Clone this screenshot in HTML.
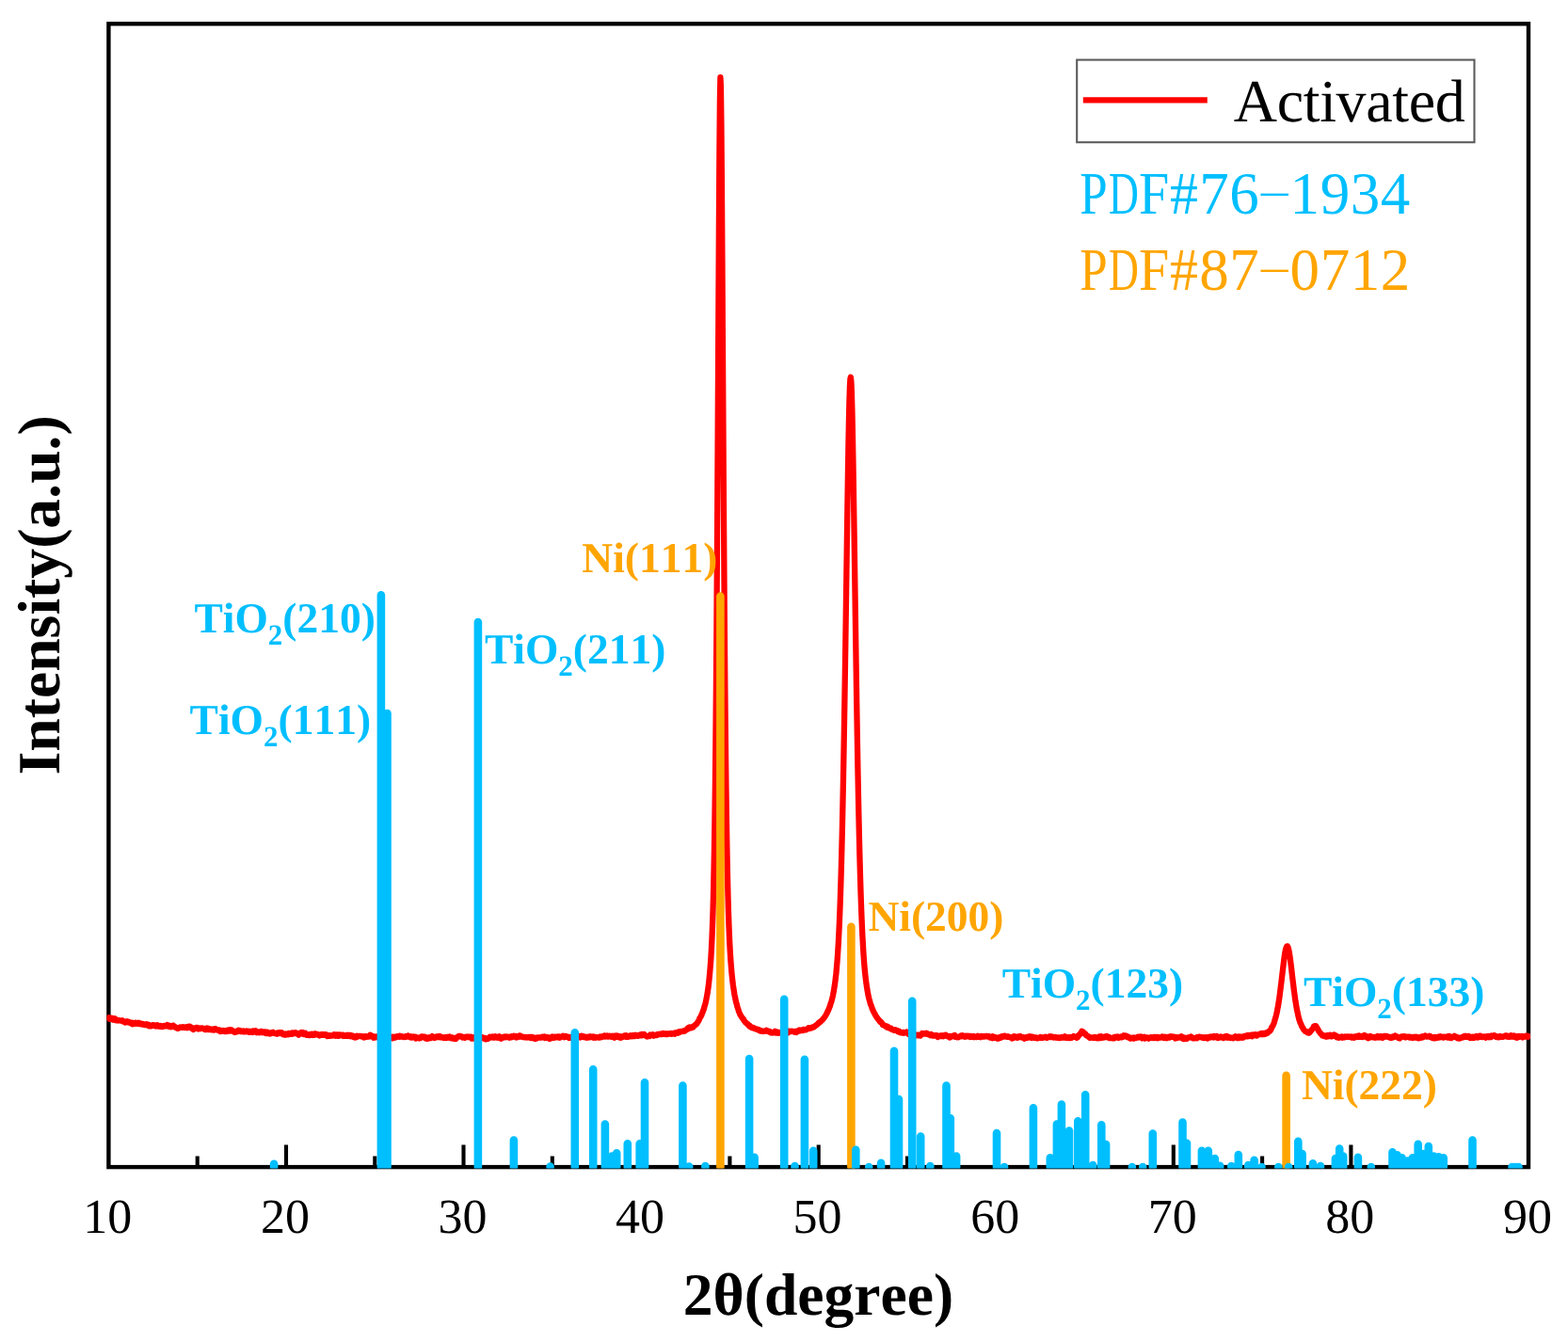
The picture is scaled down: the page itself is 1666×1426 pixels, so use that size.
<!DOCTYPE html>
<html lang="en"><head><meta charset="utf-8"><title>XRD pattern - Activated</title>
<style>html,body{margin:0;padding:0;background:#fff;}body{width:1666px;height:1426px;overflow:hidden;position:relative;}.pdf{position:absolute;white-space:nowrap;font-family:"Liberation Serif",serif;font-kerning:none;}.pdf span{display:inline-flex;justify-content:center;width:32.1px;transform-origin:50% 58.75%;}svg{display:block;}text{font-kerning:none;font-variant-ligatures:none;text-rendering:geometricPrecision;}.t{font-family:"Liberation Serif",serif;}.b{font-family:"Liberation Serif",serif;font-weight:bold;}</style></head><body>
<svg width="1666" height="1426" viewBox="0 0 1666 1426">
<rect width="1666" height="1426" fill="#fff"/>
<defs><clipPath id="cp"><rect x="113.4" y="23.3" width="1512.6" height="1218.3"/></clipPath></defs>
<rect x="115.4" y="25.3" width="1508.6" height="1214.8" fill="none" stroke="#000" stroke-width="4.4"/>
<path d="M209.7,1240.1 V1228.4 M304.0,1240.1 V1216.4 M398.3,1240.1 V1228.4 M492.5,1240.1 V1216.4 M586.8,1240.1 V1228.4 M681.1,1240.1 V1216.4 M775.4,1240.1 V1228.4 M869.7,1240.1 V1216.4 M964.0,1240.1 V1228.4 M1058.3,1240.1 V1216.4 M1152.6,1240.1 V1228.4 M1246.8,1240.1 V1216.4 M1341.1,1240.1 V1228.4 M1435.4,1240.1 V1216.4 M1529.7,1240.1 V1228.4" stroke="#000" stroke-width="4.1" fill="none"/>
<g clip-path="url(#cp)">
<path d="M115.4,1081.3 L115.9,1082.5 L116.4,1082.8 L116.9,1082.8 L117.4,1082.7 L117.9,1082.9 L118.4,1082.5 L118.9,1081.8 L119.4,1082.5 L119.9,1082.6 L120.4,1083.6 L120.9,1082.4 L121.4,1082.9 L121.9,1082.3 L122.4,1082.6 L122.9,1083.0 L123.4,1084.3 L123.9,1083.9 L124.4,1083.9 L124.9,1083.8 L125.4,1084.1 L125.9,1084.5 L126.4,1084.4 L126.9,1084.2 L127.4,1084.4 L127.9,1084.5 L128.4,1084.7 L128.9,1084.7 L129.4,1084.6 L129.9,1084.3 L130.4,1085.2 L130.9,1085.5 L131.4,1085.7 L131.9,1085.7 L132.4,1085.5 L132.9,1086.4 L133.4,1085.7 L133.9,1085.9 L134.4,1085.7 L134.9,1085.4 L135.4,1086.3 L135.9,1085.5 L136.4,1086.2 L136.9,1086.2 L137.4,1086.5 L137.9,1086.2 L138.4,1087.1 L138.9,1087.3 L139.4,1087.2 L139.9,1086.9 L140.4,1086.7 L140.9,1088.3 L141.4,1086.9 L141.9,1087.3 L142.4,1087.9 L142.9,1087.9 L143.4,1087.1 L143.9,1087.6 L144.4,1086.7 L144.9,1087.4 L145.4,1087.4 L145.9,1087.3 L146.4,1087.9 L146.9,1087.7 L147.4,1086.7 L147.9,1088.0 L148.4,1087.8 L148.9,1088.1 L149.4,1087.7 L149.9,1088.2 L150.4,1087.8 L150.9,1088.3 L151.4,1088.6 L151.9,1088.1 L152.4,1088.2 L152.9,1088.6 L153.4,1089.0 L153.9,1088.9 L154.4,1088.9 L154.9,1089.1 L155.4,1089.0 L155.9,1088.4 L156.4,1089.4 L156.9,1089.5 L157.4,1089.7 L157.9,1088.8 L158.4,1090.2 L158.9,1089.4 L159.4,1089.9 L159.9,1089.7 L160.4,1090.3 L160.9,1089.9 L161.4,1089.4 L161.9,1089.6 L162.4,1089.2 L162.9,1089.1 L163.4,1089.9 L163.9,1090.0 L164.4,1089.7 L164.9,1090.4 L165.4,1090.5 L165.9,1089.6 L166.4,1090.0 L166.9,1090.1 L167.4,1089.2 L167.9,1090.5 L168.4,1090.5 L168.9,1090.4 L169.4,1090.3 L169.9,1090.2 L170.4,1090.9 L170.9,1090.2 L171.4,1090.6 L171.9,1090.4 L172.4,1091.0 L172.9,1091.1 L173.4,1090.6 L173.9,1090.4 L174.4,1089.9 L174.9,1089.9 L175.4,1090.4 L175.9,1090.4 L176.4,1090.3 L176.9,1089.8 L177.4,1089.9 L177.9,1089.2 L178.4,1090.4 L178.9,1089.5 L179.4,1089.8 L179.9,1090.2 L180.4,1091.0 L180.9,1090.0 L181.4,1090.7 L181.9,1091.2 L182.4,1090.8 L182.9,1090.7 L183.4,1090.1 L183.9,1090.4 L184.4,1089.9 L184.9,1090.9 L185.4,1091.0 L185.9,1091.6 L186.4,1091.3 L186.9,1091.8 L187.4,1091.7 L187.9,1092.5 L188.4,1092.9 L188.9,1092.7 L189.4,1092.8 L189.9,1092.3 L190.4,1092.3 L190.9,1092.0 L191.4,1091.4 L191.9,1091.6 L192.4,1091.9 L192.9,1091.7 L193.4,1091.5 L193.9,1091.2 L194.4,1091.8 L194.9,1091.4 L195.4,1091.5 L195.9,1091.9 L196.4,1092.0 L196.9,1091.3 L197.4,1091.4 L197.9,1091.8 L198.4,1091.3 L198.9,1092.1 L199.4,1091.8 L199.9,1091.4 L200.4,1090.9 L200.9,1091.7 L201.4,1091.4 L201.9,1090.9 L202.4,1091.4 L202.9,1092.0 L203.4,1092.7 L203.9,1091.9 L204.4,1092.9 L204.9,1093.1 L205.4,1094.0 L205.9,1093.1 L206.4,1092.9 L206.9,1092.5 L207.4,1092.4 L207.9,1092.3 L208.4,1091.9 L208.9,1092.1 L209.4,1092.8 L209.9,1092.2 L210.4,1092.8 L210.9,1093.5 L211.4,1092.6 L211.9,1092.9 L212.4,1092.6 L212.9,1093.1 L213.4,1093.1 L213.9,1092.7 L214.4,1092.5 L214.9,1092.4 L215.4,1092.6 L215.9,1093.0 L216.4,1092.9 L216.9,1093.5 L217.4,1093.9 L217.9,1093.1 L218.4,1094.0 L218.9,1094.0 L219.4,1093.5 L219.9,1092.6 L220.4,1093.2 L220.9,1093.8 L221.4,1092.8 L221.9,1094.1 L222.4,1093.2 L222.9,1093.7 L223.4,1093.5 L223.9,1093.8 L224.4,1094.2 L224.9,1093.8 L225.4,1094.2 L225.9,1094.1 L226.4,1094.4 L226.9,1093.5 L227.4,1094.6 L227.9,1094.3 L228.4,1093.1 L228.9,1093.2 L229.4,1093.6 L229.9,1094.1 L230.4,1094.4 L230.9,1094.6 L231.4,1094.9 L231.9,1094.6 L232.4,1094.3 L232.9,1094.4 L233.4,1094.7 L233.9,1094.7 L234.4,1096.1 L234.9,1095.1 L235.4,1095.9 L235.9,1095.8 L236.4,1095.2 L236.9,1095.0 L237.4,1095.3 L237.9,1095.6 L238.4,1095.3 L238.9,1095.9 L239.4,1095.3 L239.9,1095.2 L240.4,1095.5 L240.9,1096.0 L241.4,1095.4 L241.9,1095.6 L242.4,1094.6 L242.9,1095.1 L243.4,1094.7 L243.9,1095.5 L244.4,1094.3 L244.9,1094.6 L245.4,1094.3 L245.9,1094.4 L246.4,1095.4 L246.9,1095.5 L247.4,1095.2 L247.9,1096.1 L248.4,1095.9 L248.9,1096.1 L249.4,1096.9 L249.9,1096.5 L250.4,1096.6 L250.9,1096.7 L251.4,1096.1 L251.9,1095.6 L252.4,1096.1 L252.9,1096.0 L253.4,1094.7 L253.9,1094.9 L254.4,1094.9 L254.9,1095.0 L255.4,1095.9 L255.9,1095.4 L256.4,1095.5 L256.9,1095.8 L257.4,1096.0 L257.9,1095.9 L258.4,1096.2 L258.9,1095.6 L259.4,1096.2 L259.9,1095.8 L260.4,1095.9 L260.9,1096.3 L261.4,1095.7 L261.9,1095.4 L262.4,1095.9 L262.9,1096.2 L263.4,1096.0 L263.9,1095.7 L264.4,1096.8 L264.9,1096.4 L265.4,1096.1 L265.9,1096.7 L266.4,1096.3 L266.9,1096.3 L267.4,1096.1 L267.9,1096.2 L268.4,1096.8 L268.9,1095.4 L269.4,1096.5 L269.9,1096.3 L270.4,1096.1 L270.9,1095.8 L271.4,1095.4 L271.9,1096.1 L272.4,1096.7 L272.9,1097.2 L273.4,1097.0 L273.9,1096.3 L274.4,1096.9 L274.9,1096.7 L275.4,1097.3 L275.9,1097.1 L276.4,1096.9 L276.9,1096.7 L277.4,1096.0 L277.9,1096.6 L278.4,1097.1 L278.9,1096.3 L279.4,1096.5 L279.9,1096.4 L280.4,1096.9 L280.9,1097.3 L281.4,1096.5 L281.9,1097.4 L282.4,1096.9 L282.9,1098.1 L283.4,1097.1 L283.9,1097.5 L284.4,1096.8 L284.9,1098.0 L285.4,1097.7 L285.9,1097.6 L286.4,1098.4 L286.9,1097.7 L287.4,1097.5 L287.9,1098.2 L288.4,1097.3 L288.9,1097.6 L289.4,1097.0 L289.9,1096.8 L290.4,1097.8 L290.9,1097.4 L291.4,1097.8 L291.9,1098.0 L292.4,1097.9 L292.9,1098.3 L293.4,1098.1 L293.9,1098.2 L294.4,1098.6 L294.9,1097.5 L295.4,1098.2 L295.9,1097.6 L296.4,1097.8 L296.9,1097.3 L297.4,1098.1 L297.9,1097.9 L298.4,1097.4 L298.9,1098.1 L299.4,1097.2 L299.9,1097.6 L300.4,1098.6 L300.9,1099.2 L301.4,1098.6 L301.9,1099.1 L302.4,1099.0 L302.9,1099.6 L303.4,1098.9 L303.9,1098.5 L304.4,1098.8 L304.9,1099.1 L305.4,1099.3 L305.9,1098.7 L306.4,1099.2 L306.9,1098.1 L307.4,1098.7 L307.9,1098.1 L308.4,1098.3 L308.9,1098.2 L309.4,1098.8 L309.9,1098.9 L310.4,1097.4 L310.9,1098.0 L311.4,1098.2 L311.9,1097.6 L312.4,1097.8 L312.9,1097.7 L313.4,1098.0 L313.9,1097.4 L314.4,1098.1 L314.9,1097.8 L315.4,1098.1 L315.9,1097.9 L316.4,1098.3 L316.9,1098.6 L317.4,1099.6 L317.9,1099.0 L318.4,1098.7 L318.9,1098.4 L319.4,1097.7 L319.9,1098.2 L320.4,1097.0 L320.9,1097.1 L321.4,1097.7 L321.9,1097.2 L322.4,1097.3 L322.9,1099.0 L323.4,1097.8 L323.9,1098.2 L324.4,1097.9 L324.9,1098.6 L325.4,1099.0 L325.9,1099.8 L326.4,1099.5 L326.9,1099.4 L327.4,1099.4 L327.9,1100.0 L328.4,1099.6 L328.9,1099.9 L329.4,1099.1 L329.9,1099.8 L330.4,1099.0 L330.9,1099.3 L331.4,1098.7 L331.9,1098.9 L332.4,1100.0 L332.9,1099.6 L333.4,1099.0 L333.9,1099.8 L334.4,1098.4 L334.9,1099.1 L335.4,1098.5 L335.9,1099.2 L336.4,1099.3 L336.9,1098.9 L337.4,1099.0 L337.9,1099.1 L338.4,1099.9 L338.9,1099.8 L339.4,1100.5 L339.9,1099.9 L340.4,1099.8 L340.9,1099.3 L341.4,1099.2 L341.9,1099.8 L342.4,1099.4 L342.9,1099.9 L343.4,1099.7 L343.9,1099.2 L344.4,1099.3 L344.9,1099.9 L345.4,1099.9 L345.9,1100.0 L346.4,1099.4 L346.9,1100.0 L347.4,1099.7 L347.9,1101.1 L348.4,1100.1 L348.9,1100.3 L349.4,1100.3 L349.9,1100.1 L350.4,1100.7 L350.9,1100.3 L351.4,1100.5 L351.9,1100.7 L352.4,1100.4 L352.9,1100.2 L353.4,1100.5 L353.9,1100.2 L354.4,1099.7 L354.9,1099.3 L355.4,1099.7 L355.9,1100.2 L356.4,1100.7 L356.9,1099.9 L357.4,1100.2 L357.9,1099.7 L358.4,1100.4 L358.9,1100.7 L359.4,1099.5 L359.9,1099.8 L360.4,1100.6 L360.9,1099.5 L361.4,1099.4 L361.9,1099.8 L362.4,1100.0 L362.9,1099.9 L363.4,1100.1 L363.9,1100.6 L364.4,1099.8 L364.9,1100.6 L365.4,1100.0 L365.9,1100.6 L366.4,1100.9 L366.9,1100.5 L367.4,1100.3 L367.9,1100.1 L368.4,1100.0 L368.9,1100.8 L369.4,1099.8 L369.9,1100.5 L370.4,1100.3 L370.9,1100.8 L371.4,1100.1 L371.9,1100.8 L372.4,1100.2 L372.9,1101.1 L373.4,1100.2 L373.9,1100.3 L374.4,1100.3 L374.9,1101.5 L375.4,1101.2 L375.9,1102.0 L376.4,1101.7 L376.9,1101.4 L377.4,1102.5 L377.9,1102.4 L378.4,1101.6 L378.9,1102.0 L379.4,1100.7 L379.9,1101.6 L380.4,1101.1 L380.9,1101.2 L381.4,1100.9 L381.9,1101.0 L382.4,1100.9 L382.9,1100.8 L383.4,1101.0 L383.9,1101.2 L384.4,1101.6 L384.9,1101.4 L385.4,1101.1 L385.9,1101.4 L386.4,1101.4 L386.9,1102.4 L387.4,1101.2 L387.9,1101.8 L388.4,1101.3 L388.9,1102.0 L389.4,1101.5 L389.9,1101.7 L390.4,1101.3 L390.9,1101.7 L391.4,1101.7 L391.9,1101.3 L392.4,1101.3 L392.9,1101.0 L393.4,1099.7 L393.9,1100.6 L394.4,1101.4 L394.9,1101.3 L395.4,1101.1 L395.9,1101.0 L396.4,1101.7 L396.9,1102.7 L397.4,1101.7 L397.9,1102.5 L398.4,1101.7 L398.9,1102.2 L399.4,1102.0 L399.9,1101.4 L400.4,1101.5 L400.9,1101.6 L401.4,1102.3 L401.9,1101.6 L402.4,1102.4 L402.9,1102.2 L403.4,1103.1 L403.9,1101.9 L404.4,1102.4 L404.9,1102.2 L405.4,1102.6 L405.9,1102.3 L406.4,1101.3 L406.9,1102.5 L407.4,1101.7 L407.9,1102.1 L408.4,1100.9 L408.9,1102.5 L409.4,1101.9 L409.9,1101.8 L410.4,1101.5 L410.9,1102.1 L411.4,1100.4 L411.9,1101.4 L412.4,1101.1 L412.9,1101.5 L413.4,1102.3 L413.9,1101.5 L414.4,1102.0 L414.9,1101.7 L415.4,1102.7 L415.9,1102.4 L416.4,1103.0 L416.9,1103.3 L417.4,1101.7 L417.9,1101.8 L418.4,1102.3 L418.9,1102.6 L419.4,1102.1 L419.9,1102.6 L420.4,1102.2 L420.9,1101.6 L421.4,1102.0 L421.9,1101.5 L422.4,1101.2 L422.9,1101.4 L423.4,1101.3 L423.9,1101.6 L424.4,1100.7 L424.9,1100.7 L425.4,1101.7 L425.9,1101.4 L426.4,1101.6 L426.9,1101.7 L427.4,1101.3 L427.9,1101.5 L428.4,1102.1 L428.9,1102.0 L429.4,1101.7 L429.9,1101.9 L430.4,1102.0 L430.9,1101.2 L431.4,1101.4 L431.9,1101.5 L432.4,1101.0 L432.9,1101.0 L433.4,1100.6 L433.9,1101.6 L434.4,1101.5 L434.9,1101.5 L435.4,1101.4 L435.9,1102.3 L436.4,1101.4 L436.9,1102.4 L437.4,1102.6 L437.9,1102.0 L438.4,1101.6 L438.9,1101.5 L439.4,1102.3 L439.9,1101.9 L440.4,1102.4 L440.9,1101.9 L441.4,1101.8 L441.9,1103.5 L442.4,1102.1 L442.9,1102.9 L443.4,1103.1 L443.9,1102.7 L444.4,1102.8 L444.9,1102.8 L445.4,1103.3 L445.9,1102.5 L446.4,1102.6 L446.9,1102.9 L447.4,1101.6 L447.9,1101.4 L448.4,1101.7 L448.9,1101.5 L449.4,1101.9 L449.9,1101.8 L450.4,1101.6 L450.9,1102.0 L451.4,1101.8 L451.9,1103.2 L452.4,1102.9 L452.9,1102.6 L453.4,1103.8 L453.9,1102.9 L454.4,1103.2 L454.9,1102.5 L455.4,1102.3 L455.9,1103.4 L456.4,1102.6 L456.9,1102.3 L457.4,1102.4 L457.9,1102.9 L458.4,1102.3 L458.9,1101.9 L459.4,1101.2 L459.9,1101.8 L460.4,1102.2 L460.9,1101.9 L461.4,1101.9 L461.9,1103.0 L462.4,1102.4 L462.9,1101.9 L463.4,1102.2 L463.9,1101.5 L464.4,1102.0 L464.9,1102.2 L465.4,1101.4 L465.9,1102.0 L466.4,1101.4 L466.9,1101.1 L467.4,1101.7 L467.9,1101.9 L468.4,1102.4 L468.9,1102.2 L469.4,1102.0 L469.9,1102.2 L470.4,1102.5 L470.9,1102.9 L471.4,1102.4 L471.9,1102.5 L472.4,1102.7 L472.9,1102.3 L473.4,1102.9 L473.9,1102.4 L474.4,1101.8 L474.9,1101.9 L475.4,1102.7 L475.9,1102.1 L476.4,1102.0 L476.9,1102.6 L477.4,1102.7 L477.9,1101.6 L478.4,1102.4 L478.9,1103.0 L479.4,1103.3 L479.9,1103.0 L480.4,1103.0 L480.9,1102.5 L481.4,1103.4 L481.9,1103.1 L482.4,1103.3 L482.9,1103.7 L483.4,1103.1 L483.9,1103.1 L484.4,1103.9 L484.9,1103.3 L485.4,1102.1 L485.9,1102.1 L486.4,1101.6 L486.9,1101.7 L487.4,1100.8 L487.9,1100.9 L488.4,1100.8 L488.9,1100.9 L489.4,1101.0 L489.9,1101.3 L490.4,1101.5 L490.9,1101.5 L491.4,1102.5 L491.9,1102.4 L492.4,1102.2 L492.9,1102.1 L493.4,1102.6 L493.9,1102.9 L494.4,1102.5 L494.9,1101.7 L495.4,1101.9 L495.9,1101.6 L496.4,1101.7 L496.9,1102.1 L497.4,1101.8 L497.9,1101.7 L498.4,1101.6 L498.9,1101.8 L499.4,1102.3 L499.9,1101.8 L500.4,1102.6 L500.9,1102.2 L501.4,1103.6 L501.9,1102.8 L502.4,1103.5 L502.9,1102.5 L503.4,1103.5 L503.9,1102.9 L504.4,1102.4 L504.9,1101.9 L505.4,1101.7 L505.9,1101.6 L506.4,1102.0 L506.9,1101.9 L507.4,1102.1 L507.9,1101.8 L508.4,1102.1 L508.9,1101.8 L509.4,1102.0 L509.9,1103.0 L510.4,1102.9 L510.9,1103.3 L511.4,1103.3 L511.9,1103.2 L512.4,1103.2 L512.9,1102.4 L513.4,1103.1 L513.9,1103.4 L514.4,1103.4 L514.9,1103.8 L515.4,1103.0 L515.9,1104.3 L516.4,1104.3 L516.9,1104.2 L517.4,1104.0 L517.9,1103.9 L518.4,1103.8 L518.9,1103.0 L519.4,1102.9 L519.9,1102.9 L520.4,1101.9 L520.9,1102.5 L521.4,1101.9 L521.9,1101.9 L522.4,1101.7 L522.9,1102.1 L523.4,1101.5 L523.9,1102.4 L524.4,1101.7 L524.9,1101.6 L525.4,1102.5 L525.9,1102.0 L526.4,1101.4 L526.9,1102.1 L527.4,1102.4 L527.9,1102.6 L528.4,1102.3 L528.9,1101.9 L529.4,1102.8 L529.9,1101.8 L530.4,1101.3 L530.9,1102.9 L531.4,1102.9 L531.9,1102.9 L532.4,1103.6 L532.9,1103.1 L533.4,1102.7 L533.9,1102.7 L534.4,1102.1 L534.9,1102.4 L535.4,1101.8 L535.9,1101.7 L536.4,1101.4 L536.9,1101.9 L537.4,1102.2 L537.9,1101.9 L538.4,1101.5 L538.9,1101.8 L539.4,1102.2 L539.9,1102.1 L540.4,1102.0 L540.9,1101.7 L541.4,1102.6 L541.9,1101.9 L542.4,1101.9 L542.9,1101.8 L543.4,1101.3 L543.9,1102.3 L544.4,1101.5 L544.9,1101.5 L545.4,1101.3 L545.9,1100.9 L546.4,1101.4 L546.9,1101.0 L547.4,1101.4 L547.9,1101.6 L548.4,1102.3 L548.9,1101.1 L549.4,1102.3 L549.9,1102.2 L550.4,1101.2 L550.9,1101.3 L551.4,1101.5 L551.9,1100.6 L552.4,1101.6 L552.9,1100.6 L553.4,1101.5 L553.9,1101.6 L554.4,1101.4 L554.9,1101.6 L555.4,1102.0 L555.9,1101.9 L556.4,1101.9 L556.9,1101.8 L557.4,1102.3 L557.9,1102.1 L558.4,1102.0 L558.9,1102.1 L559.4,1102.2 L559.9,1102.6 L560.4,1102.2 L560.9,1102.3 L561.4,1102.0 L561.9,1101.8 L562.4,1102.1 L562.9,1102.3 L563.4,1102.0 L563.9,1102.9 L564.4,1102.1 L564.9,1102.5 L565.4,1102.1 L565.9,1102.5 L566.4,1102.8 L566.9,1103.2 L567.4,1102.5 L567.9,1103.5 L568.4,1103.1 L568.9,1103.9 L569.4,1102.7 L569.9,1102.9 L570.4,1102.9 L570.9,1103.2 L571.4,1102.5 L571.9,1102.8 L572.4,1102.5 L572.9,1102.6 L573.4,1102.3 L573.9,1102.3 L574.4,1102.5 L574.9,1102.5 L575.4,1102.3 L575.9,1102.3 L576.4,1101.6 L576.9,1101.6 L577.4,1101.8 L577.9,1101.9 L578.4,1101.6 L578.9,1102.9 L579.4,1101.8 L579.9,1102.4 L580.4,1102.7 L580.9,1102.1 L581.4,1102.7 L581.9,1102.5 L582.4,1102.2 L582.9,1103.0 L583.4,1103.2 L583.9,1103.9 L584.4,1103.4 L584.9,1102.5 L585.4,1103.3 L585.9,1102.2 L586.4,1102.5 L586.9,1101.6 L587.4,1102.7 L587.9,1102.2 L588.4,1102.8 L588.9,1102.4 L589.4,1101.8 L589.9,1102.2 L590.4,1102.4 L590.9,1101.8 L591.4,1102.0 L591.9,1102.3 L592.4,1101.4 L592.9,1101.4 L593.4,1102.1 L593.9,1101.9 L594.4,1101.6 L594.9,1102.6 L595.4,1101.7 L595.9,1102.0 L596.4,1101.6 L596.9,1101.5 L597.4,1101.3 L597.9,1100.9 L598.4,1101.6 L598.9,1101.5 L599.4,1102.1 L599.9,1101.5 L600.4,1101.5 L600.9,1101.8 L601.4,1101.1 L601.9,1101.4 L602.4,1101.7 L602.9,1101.6 L603.4,1101.7 L603.9,1101.9 L604.4,1102.0 L604.9,1103.0 L605.4,1102.1 L605.9,1101.9 L606.4,1102.7 L606.9,1102.6 L607.4,1102.4 L607.9,1103.1 L608.4,1101.9 L608.9,1102.7 L609.4,1102.4 L609.9,1102.6 L610.4,1102.5 L610.9,1102.4 L611.4,1102.4 L611.9,1101.8 L612.4,1101.8 L612.9,1102.3 L613.4,1102.0 L613.9,1101.8 L614.4,1101.5 L614.9,1101.8 L615.4,1101.2 L615.9,1102.1 L616.4,1102.4 L616.9,1101.6 L617.4,1101.0 L617.9,1101.8 L618.4,1100.8 L618.9,1101.7 L619.4,1101.5 L619.9,1102.0 L620.4,1101.5 L620.9,1101.9 L621.4,1102.3 L621.9,1101.8 L622.4,1102.5 L622.9,1101.8 L623.4,1101.9 L623.9,1102.6 L624.4,1101.9 L624.9,1102.0 L625.4,1101.7 L625.9,1101.6 L626.4,1102.3 L626.9,1101.9 L627.4,1101.3 L627.9,1101.5 L628.4,1101.8 L628.9,1102.2 L629.4,1102.1 L629.9,1102.0 L630.4,1101.5 L630.9,1102.7 L631.4,1101.8 L631.9,1102.1 L632.4,1102.0 L632.9,1102.6 L633.4,1102.2 L633.9,1102.3 L634.4,1102.1 L634.9,1102.1 L635.4,1102.3 L635.9,1102.5 L636.4,1102.6 L636.9,1102.6 L637.4,1102.6 L637.9,1101.4 L638.4,1102.1 L638.9,1102.1 L639.4,1102.2 L639.9,1101.5 L640.4,1101.1 L640.9,1100.9 L641.4,1101.0 L641.9,1100.6 L642.4,1101.1 L642.9,1101.5 L643.4,1100.6 L643.9,1100.7 L644.4,1100.8 L644.9,1100.6 L645.4,1101.5 L645.9,1100.7 L646.4,1101.5 L646.9,1101.1 L647.4,1100.7 L647.9,1101.2 L648.4,1101.2 L648.9,1100.9 L649.4,1101.2 L649.9,1101.9 L650.4,1101.7 L650.9,1100.8 L651.4,1102.1 L651.9,1102.0 L652.4,1101.9 L652.9,1102.7 L653.4,1100.7 L653.9,1101.3 L654.4,1101.5 L654.9,1100.4 L655.4,1101.5 L655.9,1101.2 L656.4,1100.9 L656.9,1102.1 L657.4,1101.8 L657.9,1101.3 L658.4,1101.8 L658.9,1101.3 L659.4,1102.8 L659.9,1101.4 L660.4,1101.9 L660.9,1101.6 L661.4,1102.1 L661.9,1101.4 L662.4,1101.2 L662.9,1101.1 L663.4,1100.6 L663.9,1101.0 L664.4,1101.4 L664.9,1101.7 L665.4,1100.2 L665.9,1101.3 L666.4,1101.7 L666.9,1101.5 L667.4,1101.8 L667.9,1101.1 L668.4,1101.4 L668.9,1100.5 L669.4,1100.4 L669.9,1100.2 L670.4,1101.0 L670.9,1101.0 L671.4,1101.3 L671.9,1100.8 L672.4,1100.8 L672.9,1100.2 L673.4,1100.8 L673.9,1100.3 L674.4,1100.2 L674.9,1100.9 L675.4,1099.8 L675.9,1100.5 L676.4,1100.5 L676.9,1100.7 L677.4,1100.7 L677.9,1100.8 L678.4,1100.0 L678.9,1100.5 L679.4,1100.1 L679.9,1100.3 L680.4,1099.6 L680.9,1100.2 L681.4,1100.0 L681.9,1100.3 L682.4,1098.9 L682.9,1099.1 L683.4,1099.5 L683.9,1099.6 L684.4,1099.1 L684.9,1099.6 L685.4,1100.0 L685.9,1100.7 L686.4,1100.8 L686.9,1100.8 L687.4,1101.5 L687.9,1101.4 L688.4,1101.1 L688.9,1100.8 L689.4,1100.8 L689.9,1100.4 L690.4,1100.8 L690.9,1099.6 L691.4,1099.9 L691.9,1099.9 L692.4,1100.1 L692.9,1099.8 L693.4,1099.4 L693.9,1100.0 L694.4,1100.7 L694.9,1099.9 L695.4,1100.3 L695.9,1100.3 L696.4,1100.0 L696.9,1099.6 L697.4,1099.5 L697.9,1099.9 L698.4,1099.3 L698.9,1099.1 L699.4,1098.8 L699.9,1098.8 L700.4,1099.1 L700.9,1099.0 L701.4,1098.7 L701.9,1098.7 L702.4,1099.1 L702.9,1099.2 L703.4,1099.0 L703.9,1098.5 L704.4,1098.0 L704.9,1098.3 L705.4,1098.6 L705.9,1098.8 L706.4,1098.5 L706.9,1098.4 L707.4,1099.0 L707.9,1098.7 L708.4,1098.4 L708.9,1098.3 L709.4,1098.9 L709.9,1098.4 L710.4,1098.6 L710.9,1098.5 L711.4,1098.4 L711.9,1098.4 L712.4,1098.6 L712.9,1098.1 L713.4,1098.7 L713.9,1098.3 L714.4,1098.2 L714.9,1098.3 L715.4,1098.0 L715.9,1098.1 L716.4,1097.8 L716.9,1098.7 L717.4,1097.4 L717.9,1097.9 L718.4,1097.6 L718.9,1097.2 L719.4,1097.5 L719.9,1097.7 L720.4,1096.9 L720.9,1097.4 L721.4,1096.4 L721.9,1096.9 L722.4,1096.4 L722.9,1096.1 L723.4,1096.1 L723.9,1095.8 L724.4,1095.9 L724.9,1096.1 L725.4,1095.7 L725.9,1095.9 L726.4,1095.3 L726.9,1095.1 L727.4,1095.7 L727.9,1095.5 L728.4,1094.6 L728.9,1094.4 L729.4,1094.3 L729.9,1093.6 L730.4,1092.9 L730.9,1093.0 L731.4,1092.1 L731.9,1093.0 L732.4,1092.3 L732.9,1091.7 L733.4,1092.3 L733.9,1092.3 L734.4,1092.2 L734.9,1091.8 L735.4,1091.2 L735.9,1091.1 L736.4,1091.5 L736.9,1090.6 L737.4,1090.1 L737.9,1089.8 L738.4,1089.1 L738.9,1089.0 L739.4,1088.7 L739.9,1088.0 L740.4,1087.9 L740.9,1086.5 L741.4,1086.2 L741.9,1085.2 L742.4,1084.6 L742.9,1083.4 L743.4,1082.0 L743.9,1081.2 L744.4,1080.6 L744.9,1079.3 L745.4,1078.6 L745.9,1076.8 L746.4,1076.0 L746.9,1074.5 L747.4,1073.3 L747.9,1071.9 L748.4,1069.8 L748.9,1068.3 L749.4,1066.6 L749.9,1064.5 L750.4,1062.0 L750.9,1059.5 L751.4,1056.7 L751.9,1053.5 L752.4,1050.2 L752.9,1046.4 L753.4,1041.9 L753.9,1036.8 L754.4,1031.2 L754.9,1025.0 L755.4,1017.7 L755.9,1008.9 L756.4,998.7 L756.9,986.4 L757.4,972.0 L757.9,954.0 L758.4,932.1 L758.9,905.4 L759.4,872.8 L759.9,833.5 L760.4,786.2 L760.9,730.5 L761.4,665.6 L761.9,591.5 L762.4,509.0 L762.9,419.9 L763.4,327.9 L763.9,239.2 L764.4,162.1 L764.9,106.7 L765.4,82.1 L765.9,91.7 L766.4,131.3 L766.9,194.8 L767.4,273.7 L767.9,359.8 L768.4,446.6 L768.9,529.6 L769.4,606.1 L769.9,674.9 L770.4,735.4 L770.9,787.7 L771.4,832.4 L771.9,870.0 L772.4,901.3 L772.9,927.5 L773.4,949.1 L773.9,966.9 L774.4,981.8 L774.9,994.3 L775.4,1004.7 L775.9,1013.6 L776.4,1021.1 L776.9,1027.6 L777.4,1033.4 L777.9,1038.3 L778.4,1042.9 L778.9,1047.2 L779.4,1050.3 L779.9,1053.5 L780.4,1056.8 L780.9,1059.2 L781.4,1061.7 L781.9,1064.2 L782.4,1066.0 L782.9,1067.5 L783.4,1069.9 L783.9,1071.3 L784.4,1072.7 L784.9,1074.4 L785.4,1075.7 L785.9,1076.8 L786.4,1078.2 L786.9,1078.7 L787.4,1079.9 L787.9,1080.4 L788.4,1081.3 L788.9,1081.9 L789.4,1082.2 L789.9,1083.0 L790.4,1084.2 L790.9,1084.7 L791.4,1085.5 L791.9,1086.2 L792.4,1086.7 L792.9,1086.8 L793.4,1087.6 L793.9,1088.1 L794.4,1088.6 L794.9,1088.4 L795.4,1089.8 L795.9,1089.7 L796.4,1090.5 L796.9,1090.1 L797.4,1091.2 L797.9,1091.2 L798.4,1091.9 L798.9,1091.6 L799.4,1092.2 L799.9,1092.4 L800.4,1091.9 L800.9,1092.2 L801.4,1092.5 L801.9,1093.0 L802.4,1093.4 L802.9,1093.2 L803.4,1093.5 L803.9,1093.8 L804.4,1094.1 L804.9,1093.8 L805.4,1094.3 L805.9,1094.6 L806.4,1094.9 L806.9,1094.5 L807.4,1095.3 L807.9,1095.5 L808.4,1095.3 L808.9,1095.3 L809.4,1095.6 L809.9,1095.4 L810.4,1095.7 L810.9,1096.1 L811.4,1095.7 L811.9,1095.7 L812.4,1095.6 L812.9,1095.5 L813.4,1095.7 L813.9,1095.6 L814.4,1094.9 L814.9,1095.4 L815.4,1095.5 L815.9,1096.0 L816.4,1096.2 L816.9,1096.0 L817.4,1096.2 L817.9,1096.0 L818.4,1097.1 L818.9,1097.3 L819.4,1097.4 L819.9,1097.2 L820.4,1097.6 L820.9,1097.5 L821.4,1097.2 L821.9,1097.3 L822.4,1096.6 L822.9,1096.7 L823.4,1095.9 L823.9,1096.8 L824.4,1097.4 L824.9,1096.3 L825.4,1097.2 L825.9,1097.2 L826.4,1097.1 L826.9,1097.7 L827.4,1097.0 L827.9,1097.6 L828.4,1097.4 L828.9,1097.5 L829.4,1097.0 L829.9,1097.4 L830.4,1097.4 L830.9,1097.0 L831.4,1096.2 L831.9,1096.9 L832.4,1096.5 L832.9,1096.4 L833.4,1096.5 L833.9,1096.0 L834.4,1096.5 L834.9,1096.4 L835.4,1096.3 L835.9,1096.5 L836.4,1096.9 L836.9,1097.4 L837.4,1096.5 L837.9,1095.8 L838.4,1096.6 L838.9,1096.0 L839.4,1096.0 L839.9,1095.8 L840.4,1096.0 L840.9,1095.8 L841.4,1095.6 L841.9,1095.8 L842.4,1095.8 L842.9,1096.1 L843.4,1096.3 L843.9,1096.6 L844.4,1096.0 L844.9,1096.8 L845.4,1096.0 L845.9,1096.4 L846.4,1096.8 L846.9,1095.8 L847.4,1096.1 L847.9,1095.5 L848.4,1095.1 L848.9,1095.5 L849.4,1094.6 L849.9,1095.2 L850.4,1094.8 L850.9,1095.1 L851.4,1095.0 L851.9,1094.8 L852.4,1094.6 L852.9,1094.9 L853.4,1094.1 L853.9,1094.6 L854.4,1094.6 L854.9,1093.9 L855.4,1094.1 L855.9,1094.1 L856.4,1094.3 L856.9,1093.8 L857.4,1093.6 L857.9,1093.3 L858.4,1092.9 L858.9,1092.4 L859.4,1093.1 L859.9,1092.9 L860.4,1092.6 L860.9,1092.2 L861.4,1092.6 L861.9,1092.6 L862.4,1092.2 L862.9,1092.1 L863.4,1091.4 L863.9,1091.6 L864.4,1091.6 L864.9,1091.2 L865.4,1090.9 L865.9,1090.5 L866.4,1089.9 L866.9,1089.4 L867.4,1089.1 L867.9,1088.9 L868.4,1088.4 L868.9,1088.2 L869.4,1087.2 L869.9,1087.2 L870.4,1086.3 L870.9,1086.2 L871.4,1085.8 L871.9,1085.6 L872.4,1084.9 L872.9,1084.5 L873.4,1084.1 L873.9,1083.3 L874.4,1083.1 L874.9,1082.2 L875.4,1081.7 L875.9,1081.2 L876.4,1080.4 L876.9,1079.5 L877.4,1078.9 L877.9,1077.9 L878.4,1076.8 L878.9,1076.1 L879.4,1074.6 L879.9,1073.9 L880.4,1072.8 L880.9,1071.4 L881.4,1070.1 L881.9,1069.0 L882.4,1067.1 L882.9,1065.6 L883.4,1064.4 L883.9,1062.2 L884.4,1060.3 L884.9,1058.1 L885.4,1055.4 L885.9,1053.0 L886.4,1049.7 L886.9,1046.6 L887.4,1042.9 L887.9,1038.6 L888.4,1034.4 L888.9,1028.9 L889.4,1023.1 L889.9,1016.6 L890.4,1008.8 L890.9,1000.4 L891.4,990.6 L891.9,979.5 L892.4,967.1 L892.9,953.2 L893.4,937.6 L893.9,920.3 L894.4,901.1 L894.9,880.1 L895.4,856.9 L895.9,831.9 L896.4,804.7 L896.9,775.7 L897.4,745.0 L897.9,712.4 L898.4,678.7 L898.9,643.9 L899.4,608.5 L899.9,573.3 L900.4,538.8 L900.9,506.1 L901.4,475.9 L901.9,449.5 L902.4,427.9 L902.9,412.1 L903.4,402.8 L903.9,400.7 L904.4,405.7 L904.9,417.7 L905.4,435.9 L905.9,459.6 L906.4,487.6 L906.9,518.9 L907.4,552.5 L907.9,587.4 L908.4,622.7 L908.9,657.9 L909.4,692.4 L909.9,725.7 L910.4,757.5 L910.9,787.6 L911.4,816.0 L911.9,842.2 L912.4,866.5 L912.9,889.0 L913.4,909.2 L913.9,927.7 L914.4,944.3 L914.9,959.3 L915.4,972.6 L915.9,984.5 L916.4,994.8 L916.9,1004.0 L917.4,1012.5 L917.9,1019.7 L918.4,1025.9 L918.9,1031.6 L919.4,1036.5 L919.9,1040.7 L920.4,1044.7 L920.9,1048.1 L921.4,1051.4 L921.9,1054.2 L922.4,1056.8 L922.9,1059.3 L923.4,1061.3 L923.9,1063.1 L924.4,1064.9 L924.9,1067.0 L925.4,1067.8 L925.9,1069.3 L926.4,1070.6 L926.9,1072.5 L927.4,1072.9 L927.9,1074.4 L928.4,1075.7 L928.9,1076.4 L929.4,1077.0 L929.9,1078.3 L930.4,1079.1 L930.9,1080.1 L931.4,1080.6 L931.9,1081.4 L932.4,1082.4 L932.9,1082.8 L933.4,1083.3 L933.9,1084.1 L934.4,1084.7 L934.9,1085.4 L935.4,1085.9 L935.9,1085.7 L936.4,1086.7 L936.9,1086.8 L937.4,1087.8 L937.9,1089.0 L938.4,1088.8 L938.9,1089.3 L939.4,1089.3 L939.9,1089.7 L940.4,1090.2 L940.9,1090.5 L941.4,1090.6 L941.9,1091.3 L942.4,1090.5 L942.9,1091.5 L943.4,1091.0 L943.9,1092.2 L944.4,1092.2 L944.9,1092.2 L945.4,1092.7 L945.9,1092.8 L946.4,1093.3 L946.9,1092.9 L947.4,1093.9 L947.9,1094.0 L948.4,1093.8 L948.9,1094.1 L949.4,1094.6 L949.9,1094.8 L950.4,1094.6 L950.9,1094.8 L951.4,1094.3 L951.9,1094.7 L952.4,1095.2 L952.9,1095.2 L953.4,1095.1 L953.9,1095.7 L954.4,1096.4 L954.9,1096.6 L955.4,1095.9 L955.9,1096.8 L956.4,1096.7 L956.9,1097.4 L957.4,1097.2 L957.9,1097.4 L958.4,1097.5 L958.9,1097.3 L959.4,1097.0 L959.9,1097.0 L960.4,1097.7 L960.9,1097.1 L961.4,1097.1 L961.9,1097.3 L962.4,1097.0 L962.9,1097.2 L963.4,1096.6 L963.9,1097.7 L964.4,1097.6 L964.9,1098.1 L965.4,1099.0 L965.9,1098.8 L966.4,1098.8 L966.9,1099.2 L967.4,1099.3 L967.9,1099.6 L968.4,1099.4 L968.9,1099.8 L969.4,1100.2 L969.9,1099.5 L970.4,1100.2 L970.9,1099.9 L971.4,1100.3 L971.9,1100.0 L972.4,1100.6 L972.9,1100.1 L973.4,1099.7 L973.9,1099.7 L974.4,1099.8 L974.9,1100.1 L975.4,1099.9 L975.9,1100.2 L976.4,1099.6 L976.9,1099.7 L977.4,1099.9 L977.9,1100.5 L978.4,1099.4 L978.9,1099.6 L979.4,1099.4 L979.9,1098.1 L980.4,1098.3 L980.9,1098.4 L981.4,1098.2 L981.9,1098.5 L982.4,1098.6 L982.9,1098.1 L983.4,1098.3 L983.9,1098.5 L984.4,1097.7 L984.9,1098.3 L985.4,1099.1 L985.9,1099.0 L986.4,1098.7 L986.9,1099.2 L987.4,1099.5 L987.9,1099.4 L988.4,1100.2 L988.9,1099.8 L989.4,1099.0 L989.9,1100.2 L990.4,1100.4 L990.9,1100.6 L991.4,1100.3 L991.9,1100.1 L992.4,1100.6 L992.9,1100.3 L993.4,1100.1 L993.9,1100.5 L994.4,1100.2 L994.9,1100.8 L995.4,1100.3 L995.9,1101.1 L996.4,1102.0 L996.9,1101.0 L997.4,1101.1 L997.9,1101.1 L998.4,1101.2 L998.9,1100.4 L999.4,1100.5 L999.9,1100.6 L1000.4,1100.6 L1000.9,1100.3 L1001.4,1101.2 L1001.9,1101.2 L1002.4,1101.3 L1002.9,1100.7 L1003.4,1100.1 L1003.9,1099.9 L1004.4,1100.1 L1004.9,1099.8 L1005.4,1100.3 L1005.9,1101.0 L1006.4,1100.9 L1006.9,1100.9 L1007.4,1100.8 L1007.9,1101.6 L1008.4,1101.2 L1008.9,1101.5 L1009.4,1102.5 L1009.9,1101.1 L1010.4,1101.8 L1010.9,1101.6 L1011.4,1101.0 L1011.9,1101.1 L1012.4,1100.7 L1012.9,1100.5 L1013.4,1101.2 L1013.9,1100.6 L1014.4,1100.1 L1014.9,1101.7 L1015.4,1101.5 L1015.9,1101.3 L1016.4,1101.7 L1016.9,1102.2 L1017.4,1101.8 L1017.9,1102.0 L1018.4,1102.2 L1018.9,1101.5 L1019.4,1101.4 L1019.9,1101.2 L1020.4,1101.0 L1020.9,1100.5 L1021.4,1101.3 L1021.9,1100.6 L1022.4,1101.0 L1022.9,1100.4 L1023.4,1101.0 L1023.9,1101.2 L1024.4,1100.8 L1024.9,1100.8 L1025.4,1101.8 L1025.9,1101.5 L1026.4,1100.9 L1026.9,1101.4 L1027.4,1101.0 L1027.9,1101.3 L1028.4,1100.7 L1028.9,1101.1 L1029.4,1101.2 L1029.9,1101.0 L1030.4,1100.9 L1030.9,1101.9 L1031.4,1101.1 L1031.9,1101.7 L1032.4,1101.2 L1032.9,1101.1 L1033.4,1101.6 L1033.9,1101.0 L1034.4,1101.6 L1034.9,1102.1 L1035.4,1101.4 L1035.9,1101.7 L1036.4,1101.9 L1036.9,1101.9 L1037.4,1102.1 L1037.9,1102.0 L1038.4,1101.6 L1038.9,1100.8 L1039.4,1101.8 L1039.9,1101.8 L1040.4,1101.7 L1040.9,1101.9 L1041.4,1101.4 L1041.9,1102.1 L1042.4,1101.8 L1042.9,1101.1 L1043.4,1101.5 L1043.9,1101.6 L1044.4,1101.2 L1044.9,1101.1 L1045.4,1101.5 L1045.9,1101.2 L1046.4,1101.2 L1046.9,1101.3 L1047.4,1101.2 L1047.9,1101.0 L1048.4,1101.0 L1048.9,1101.4 L1049.4,1101.4 L1049.9,1101.3 L1050.4,1101.0 L1050.9,1101.7 L1051.4,1102.2 L1051.9,1102.5 L1052.4,1101.8 L1052.9,1102.7 L1053.4,1102.7 L1053.9,1102.7 L1054.4,1103.1 L1054.9,1101.2 L1055.4,1102.0 L1055.9,1101.8 L1056.4,1102.7 L1056.9,1102.0 L1057.4,1102.6 L1057.9,1102.2 L1058.4,1102.6 L1058.9,1102.7 L1059.4,1103.4 L1059.9,1103.0 L1060.4,1103.3 L1060.9,1103.5 L1061.4,1102.9 L1061.9,1102.2 L1062.4,1102.0 L1062.9,1102.0 L1063.4,1102.7 L1063.9,1101.5 L1064.4,1101.8 L1064.9,1101.9 L1065.4,1101.2 L1065.9,1101.5 L1066.4,1101.1 L1066.9,1101.5 L1067.4,1101.5 L1067.9,1100.8 L1068.4,1101.3 L1068.9,1101.2 L1069.4,1101.7 L1069.9,1101.9 L1070.4,1101.6 L1070.9,1101.3 L1071.4,1101.4 L1071.9,1102.2 L1072.4,1102.2 L1072.9,1102.2 L1073.4,1102.1 L1073.9,1102.1 L1074.4,1102.7 L1074.9,1102.8 L1075.4,1103.4 L1075.9,1102.8 L1076.4,1102.3 L1076.9,1103.0 L1077.4,1101.1 L1077.9,1101.6 L1078.4,1102.1 L1078.9,1101.7 L1079.4,1101.7 L1079.9,1102.1 L1080.4,1102.6 L1080.9,1101.9 L1081.4,1102.7 L1081.9,1101.6 L1082.4,1101.4 L1082.9,1101.3 L1083.4,1101.4 L1083.9,1101.0 L1084.4,1101.8 L1084.9,1102.2 L1085.4,1102.0 L1085.9,1101.9 L1086.4,1102.3 L1086.9,1102.7 L1087.4,1102.3 L1087.9,1102.8 L1088.4,1103.6 L1088.9,1102.7 L1089.4,1102.5 L1089.9,1102.2 L1090.4,1102.9 L1090.9,1102.0 L1091.4,1102.1 L1091.9,1102.7 L1092.4,1101.7 L1092.9,1101.9 L1093.4,1101.9 L1093.9,1101.4 L1094.4,1101.3 L1094.9,1102.5 L1095.4,1102.3 L1095.9,1101.8 L1096.4,1102.9 L1096.9,1101.9 L1097.4,1102.2 L1097.9,1102.0 L1098.4,1102.6 L1098.9,1102.8 L1099.4,1102.6 L1099.9,1102.7 L1100.4,1102.5 L1100.9,1102.5 L1101.4,1102.7 L1101.9,1103.3 L1102.4,1102.9 L1102.9,1102.8 L1103.4,1103.1 L1103.9,1102.8 L1104.4,1102.5 L1104.9,1102.6 L1105.4,1102.0 L1105.9,1102.0 L1106.4,1102.9 L1106.9,1102.9 L1107.4,1102.6 L1107.9,1102.8 L1108.4,1102.3 L1108.9,1102.3 L1109.4,1102.3 L1109.9,1101.8 L1110.4,1101.8 L1110.9,1102.3 L1111.4,1101.8 L1111.9,1102.0 L1112.4,1102.8 L1112.9,1102.2 L1113.4,1101.9 L1113.9,1102.2 L1114.4,1102.0 L1114.9,1101.7 L1115.4,1101.3 L1115.9,1102.1 L1116.4,1101.9 L1116.9,1101.7 L1117.4,1101.5 L1117.9,1102.1 L1118.4,1101.9 L1118.9,1101.9 L1119.4,1102.4 L1119.9,1102.0 L1120.4,1102.4 L1120.9,1102.5 L1121.4,1102.0 L1121.9,1102.1 L1122.4,1102.3 L1122.9,1102.3 L1123.4,1102.8 L1123.9,1102.5 L1124.4,1102.5 L1124.9,1102.4 L1125.4,1102.9 L1125.9,1103.0 L1126.4,1103.1 L1126.9,1102.7 L1127.4,1102.5 L1127.9,1102.0 L1128.4,1102.4 L1128.9,1102.5 L1129.4,1102.2 L1129.9,1102.0 L1130.4,1102.5 L1130.9,1101.8 L1131.4,1101.3 L1131.9,1101.6 L1132.4,1102.0 L1132.9,1101.9 L1133.4,1103.0 L1133.9,1102.3 L1134.4,1102.8 L1134.9,1102.4 L1135.4,1102.4 L1135.9,1103.1 L1136.4,1103.0 L1136.9,1101.9 L1137.4,1102.7 L1137.9,1102.6 L1138.4,1102.8 L1138.9,1102.0 L1139.4,1101.6 L1139.9,1101.6 L1140.4,1101.9 L1140.9,1101.2 L1141.4,1101.9 L1141.9,1101.8 L1142.4,1101.8 L1142.9,1101.8 L1143.4,1102.3 L1143.9,1102.7 L1144.4,1102.4 L1144.9,1102.3 L1145.4,1100.8 L1145.9,1101.0 L1146.4,1099.9 L1146.9,1099.8 L1147.4,1098.8 L1147.9,1098.7 L1148.4,1097.3 L1148.9,1097.1 L1149.4,1095.8 L1149.9,1097.2 L1150.4,1096.3 L1150.9,1096.5 L1151.4,1097.2 L1151.9,1098.1 L1152.4,1097.9 L1152.9,1099.0 L1153.4,1098.7 L1153.9,1100.0 L1154.4,1100.1 L1154.9,1100.7 L1155.4,1100.9 L1155.9,1100.9 L1156.4,1101.2 L1156.9,1102.0 L1157.4,1102.3 L1157.9,1102.8 L1158.4,1102.8 L1158.9,1102.6 L1159.4,1102.7 L1159.9,1102.5 L1160.4,1102.5 L1160.9,1102.7 L1161.4,1102.8 L1161.9,1102.6 L1162.4,1102.3 L1162.9,1102.7 L1163.4,1102.0 L1163.9,1102.9 L1164.4,1102.9 L1164.9,1102.5 L1165.4,1102.8 L1165.9,1103.3 L1166.4,1103.3 L1166.9,1102.8 L1167.4,1102.8 L1167.9,1101.5 L1168.4,1102.8 L1168.9,1103.0 L1169.4,1102.0 L1169.9,1101.4 L1170.4,1102.3 L1170.9,1102.6 L1171.4,1101.9 L1171.9,1102.5 L1172.4,1102.1 L1172.9,1101.8 L1173.4,1102.0 L1173.9,1102.2 L1174.4,1101.8 L1174.9,1101.3 L1175.4,1101.2 L1175.9,1101.1 L1176.4,1101.2 L1176.9,1102.4 L1177.4,1102.4 L1177.9,1101.8 L1178.4,1102.9 L1178.9,1102.2 L1179.4,1103.0 L1179.9,1103.1 L1180.4,1102.9 L1180.9,1103.1 L1181.4,1102.9 L1181.9,1103.0 L1182.4,1103.3 L1182.9,1102.5 L1183.4,1103.0 L1183.9,1102.2 L1184.4,1103.1 L1184.9,1101.9 L1185.4,1101.7 L1185.9,1102.1 L1186.4,1102.0 L1186.9,1102.0 L1187.4,1102.3 L1187.9,1101.7 L1188.4,1102.9 L1188.9,1102.1 L1189.4,1102.2 L1189.9,1101.9 L1190.4,1101.9 L1190.9,1102.2 L1191.4,1101.5 L1191.9,1101.5 L1192.4,1102.2 L1192.9,1101.5 L1193.4,1101.2 L1193.9,1100.4 L1194.4,1101.3 L1194.9,1101.4 L1195.4,1101.0 L1195.9,1100.5 L1196.4,1101.1 L1196.9,1100.9 L1197.4,1101.9 L1197.9,1101.7 L1198.4,1101.8 L1198.9,1101.6 L1199.4,1102.0 L1199.9,1102.9 L1200.4,1103.2 L1200.9,1103.6 L1201.4,1103.3 L1201.9,1103.2 L1202.4,1103.4 L1202.9,1102.8 L1203.4,1103.0 L1203.9,1102.9 L1204.4,1103.5 L1204.9,1102.6 L1205.4,1102.9 L1205.9,1103.1 L1206.4,1103.2 L1206.9,1102.9 L1207.4,1102.9 L1207.9,1102.5 L1208.4,1101.9 L1208.9,1102.1 L1209.4,1102.4 L1209.9,1101.7 L1210.4,1101.7 L1210.9,1101.9 L1211.4,1102.0 L1211.9,1102.1 L1212.4,1101.6 L1212.9,1102.8 L1213.4,1103.3 L1213.9,1102.4 L1214.4,1102.5 L1214.9,1102.9 L1215.4,1102.6 L1215.9,1101.8 L1216.4,1103.4 L1216.9,1102.2 L1217.4,1103.2 L1217.9,1102.6 L1218.4,1102.6 L1218.9,1102.4 L1219.4,1102.9 L1219.9,1103.1 L1220.4,1103.6 L1220.9,1103.0 L1221.4,1102.8 L1221.9,1102.7 L1222.4,1102.3 L1222.9,1102.8 L1223.4,1102.9 L1223.9,1102.4 L1224.4,1102.5 L1224.9,1102.4 L1225.4,1102.1 L1225.9,1103.0 L1226.4,1102.1 L1226.9,1102.8 L1227.4,1102.8 L1227.9,1102.1 L1228.4,1102.8 L1228.9,1102.0 L1229.4,1103.0 L1229.9,1102.0 L1230.4,1103.2 L1230.9,1102.9 L1231.4,1102.1 L1231.9,1102.3 L1232.4,1102.5 L1232.9,1102.5 L1233.4,1102.3 L1233.9,1102.2 L1234.4,1102.2 L1234.9,1101.5 L1235.4,1101.7 L1235.9,1101.7 L1236.4,1102.9 L1236.9,1101.9 L1237.4,1101.7 L1237.9,1102.4 L1238.4,1103.0 L1238.9,1103.0 L1239.4,1102.6 L1239.9,1103.1 L1240.4,1102.1 L1240.9,1102.7 L1241.4,1102.7 L1241.9,1101.9 L1242.4,1102.5 L1242.9,1101.7 L1243.4,1101.7 L1243.9,1101.2 L1244.4,1101.6 L1244.9,1101.7 L1245.4,1101.8 L1245.9,1101.4 L1246.4,1101.7 L1246.9,1101.8 L1247.4,1102.1 L1247.9,1101.9 L1248.4,1102.0 L1248.9,1103.4 L1249.4,1103.0 L1249.9,1102.1 L1250.4,1103.0 L1250.9,1102.2 L1251.4,1102.5 L1251.9,1102.5 L1252.4,1102.3 L1252.9,1102.2 L1253.4,1102.0 L1253.9,1102.3 L1254.4,1102.6 L1254.9,1102.8 L1255.4,1101.2 L1255.9,1103.2 L1256.4,1102.6 L1256.9,1102.3 L1257.4,1103.0 L1257.9,1104.1 L1258.4,1103.8 L1258.9,1103.7 L1259.4,1102.9 L1259.9,1103.9 L1260.4,1103.9 L1260.9,1103.8 L1261.4,1103.5 L1261.9,1102.7 L1262.4,1102.4 L1262.9,1102.3 L1263.4,1102.5 L1263.9,1102.4 L1264.4,1102.2 L1264.9,1102.1 L1265.4,1101.6 L1265.9,1102.2 L1266.4,1102.2 L1266.9,1102.9 L1267.4,1103.3 L1267.9,1103.1 L1268.4,1103.3 L1268.9,1103.3 L1269.4,1103.2 L1269.9,1102.8 L1270.4,1102.8 L1270.9,1103.0 L1271.4,1102.4 L1271.9,1103.1 L1272.4,1102.5 L1272.9,1102.4 L1273.4,1102.0 L1273.9,1101.6 L1274.4,1101.6 L1274.9,1102.0 L1275.4,1102.1 L1275.9,1102.0 L1276.4,1102.2 L1276.9,1102.6 L1277.4,1102.3 L1277.9,1102.7 L1278.4,1102.3 L1278.9,1102.4 L1279.4,1103.0 L1279.9,1102.8 L1280.4,1102.3 L1280.9,1102.5 L1281.4,1102.9 L1281.9,1102.4 L1282.4,1102.9 L1282.9,1103.4 L1283.4,1102.7 L1283.9,1102.9 L1284.4,1102.2 L1284.9,1102.6 L1285.4,1101.9 L1285.9,1101.7 L1286.4,1102.2 L1286.9,1101.5 L1287.4,1101.6 L1287.9,1101.6 L1288.4,1101.8 L1288.9,1101.6 L1289.4,1102.4 L1289.9,1101.1 L1290.4,1101.8 L1290.9,1101.2 L1291.4,1101.6 L1291.9,1102.2 L1292.4,1101.7 L1292.9,1101.2 L1293.4,1102.5 L1293.9,1103.0 L1294.4,1102.5 L1294.9,1102.3 L1295.4,1102.3 L1295.9,1102.5 L1296.4,1102.1 L1296.9,1101.6 L1297.4,1102.1 L1297.9,1102.3 L1298.4,1102.3 L1298.9,1102.5 L1299.4,1102.6 L1299.9,1103.0 L1300.4,1101.7 L1300.9,1102.4 L1301.4,1102.0 L1301.9,1101.9 L1302.4,1101.3 L1302.9,1102.2 L1303.4,1101.0 L1303.9,1101.7 L1304.4,1102.7 L1304.9,1101.8 L1305.4,1102.4 L1305.9,1101.9 L1306.4,1102.1 L1306.9,1102.8 L1307.4,1103.0 L1307.9,1102.7 L1308.4,1102.6 L1308.9,1102.8 L1309.4,1102.9 L1309.9,1102.6 L1310.4,1103.2 L1310.9,1102.3 L1311.4,1102.2 L1311.9,1101.8 L1312.4,1101.4 L1312.9,1102.0 L1313.4,1101.5 L1313.9,1102.0 L1314.4,1102.0 L1314.9,1103.1 L1315.4,1102.4 L1315.9,1103.0 L1316.4,1101.4 L1316.9,1102.3 L1317.4,1102.5 L1317.9,1101.8 L1318.4,1102.3 L1318.9,1101.8 L1319.4,1102.6 L1319.9,1101.8 L1320.4,1101.7 L1320.9,1102.5 L1321.4,1101.5 L1321.9,1101.1 L1322.4,1101.6 L1322.9,1101.1 L1323.4,1100.8 L1323.9,1101.4 L1324.4,1101.4 L1324.9,1100.5 L1325.4,1101.3 L1325.9,1100.1 L1326.4,1100.6 L1326.9,1101.0 L1327.4,1100.8 L1327.9,1100.1 L1328.4,1100.4 L1328.9,1100.2 L1329.4,1099.8 L1329.9,1100.7 L1330.4,1101.2 L1330.9,1099.9 L1331.4,1099.4 L1331.9,1099.7 L1332.4,1100.0 L1332.9,1100.0 L1333.4,1099.5 L1333.9,1100.2 L1334.4,1099.4 L1334.9,1099.7 L1335.4,1100.5 L1335.9,1099.6 L1336.4,1099.5 L1336.9,1099.6 L1337.4,1099.2 L1337.9,1099.2 L1338.4,1098.8 L1338.9,1098.5 L1339.4,1098.3 L1339.9,1098.9 L1340.4,1098.0 L1340.9,1098.5 L1341.4,1099.1 L1341.9,1098.5 L1342.4,1098.0 L1342.9,1098.3 L1343.4,1098.8 L1343.9,1098.1 L1344.4,1098.7 L1344.9,1097.6 L1345.4,1097.6 L1345.9,1098.1 L1346.4,1097.0 L1346.9,1097.6 L1347.4,1096.6 L1347.9,1096.6 L1348.4,1096.1 L1348.9,1095.4 L1349.4,1095.5 L1349.9,1094.6 L1350.4,1094.1 L1350.9,1092.5 L1351.4,1091.2 L1351.9,1091.0 L1352.4,1089.9 L1352.9,1088.7 L1353.4,1087.7 L1353.9,1086.2 L1354.4,1084.2 L1354.9,1082.6 L1355.4,1080.9 L1355.9,1079.1 L1356.4,1077.0 L1356.9,1074.8 L1357.4,1071.7 L1357.9,1069.5 L1358.4,1066.3 L1358.9,1063.1 L1359.4,1059.7 L1359.9,1055.9 L1360.4,1051.9 L1360.9,1047.9 L1361.4,1043.9 L1361.9,1039.6 L1362.4,1035.3 L1362.9,1031.0 L1363.4,1026.9 L1363.9,1022.9 L1364.4,1018.7 L1364.9,1015.2 L1365.4,1012.1 L1365.9,1009.4 L1366.4,1007.6 L1366.9,1006.2 L1367.4,1005.3 L1367.9,1005.4 L1368.4,1006.3 L1368.9,1007.7 L1369.4,1009.9 L1369.9,1012.5 L1370.4,1015.9 L1370.9,1019.2 L1371.4,1023.3 L1371.9,1027.4 L1372.4,1031.7 L1372.9,1036.1 L1373.4,1040.2 L1373.9,1044.4 L1374.4,1048.5 L1374.9,1052.8 L1375.4,1056.1 L1375.9,1059.9 L1376.4,1063.6 L1376.9,1066.5 L1377.4,1069.5 L1377.9,1072.6 L1378.4,1074.7 L1378.9,1077.0 L1379.4,1079.6 L1379.9,1081.4 L1380.4,1083.5 L1380.9,1084.7 L1381.4,1086.5 L1381.9,1087.4 L1382.4,1088.4 L1382.9,1090.1 L1383.4,1091.1 L1383.9,1091.5 L1384.4,1092.5 L1384.9,1093.5 L1385.4,1094.3 L1385.9,1094.7 L1386.4,1095.1 L1386.9,1096.1 L1387.4,1096.1 L1387.9,1095.9 L1388.4,1096.3 L1388.9,1096.7 L1389.4,1097.4 L1389.9,1097.5 L1390.4,1096.9 L1390.9,1097.5 L1391.4,1097.0 L1391.9,1096.7 L1392.4,1096.1 L1392.9,1095.1 L1393.4,1094.5 L1393.9,1094.5 L1394.4,1093.1 L1394.9,1092.7 L1395.4,1091.9 L1395.9,1090.8 L1396.4,1090.5 L1396.9,1090.1 L1397.4,1090.3 L1397.9,1090.1 L1398.4,1090.6 L1398.9,1091.4 L1399.4,1092.0 L1399.9,1093.4 L1400.4,1093.9 L1400.9,1095.0 L1401.4,1096.0 L1401.9,1096.6 L1402.4,1096.8 L1402.9,1098.1 L1403.4,1098.5 L1403.9,1098.6 L1404.4,1099.3 L1404.9,1100.3 L1405.4,1100.0 L1405.9,1100.3 L1406.4,1100.8 L1406.9,1101.0 L1407.4,1100.8 L1407.9,1100.4 L1408.4,1100.8 L1408.9,1100.6 L1409.4,1101.6 L1409.9,1101.2 L1410.4,1100.9 L1410.9,1100.1 L1411.4,1100.6 L1411.9,1101.2 L1412.4,1101.0 L1412.9,1100.8 L1413.4,1099.7 L1413.9,1101.0 L1414.4,1100.8 L1414.9,1101.3 L1415.4,1100.7 L1415.9,1100.7 L1416.4,1100.8 L1416.9,1099.9 L1417.4,1099.5 L1417.9,1099.7 L1418.4,1100.3 L1418.9,1101.1 L1419.4,1100.9 L1419.9,1100.8 L1420.4,1102.3 L1420.9,1101.7 L1421.4,1102.3 L1421.9,1102.2 L1422.4,1102.7 L1422.9,1101.9 L1423.4,1102.0 L1423.9,1102.2 L1424.4,1101.7 L1424.9,1101.9 L1425.4,1102.1 L1425.9,1101.7 L1426.4,1102.6 L1426.9,1102.1 L1427.4,1102.3 L1427.9,1102.1 L1428.4,1102.0 L1428.9,1102.2 L1429.4,1101.5 L1429.9,1101.9 L1430.4,1101.6 L1430.9,1101.5 L1431.4,1101.5 L1431.9,1101.9 L1432.4,1101.9 L1432.9,1101.5 L1433.4,1101.9 L1433.9,1101.6 L1434.4,1101.7 L1434.9,1101.7 L1435.4,1101.7 L1435.9,1101.5 L1436.4,1102.6 L1436.9,1102.4 L1437.4,1101.8 L1437.9,1101.9 L1438.4,1102.0 L1438.9,1102.7 L1439.4,1101.6 L1439.9,1102.3 L1440.4,1101.6 L1440.9,1101.5 L1441.4,1101.1 L1441.9,1101.8 L1442.4,1102.1 L1442.9,1101.8 L1443.4,1101.3 L1443.9,1100.7 L1444.4,1101.3 L1444.9,1101.7 L1445.4,1101.0 L1445.9,1101.7 L1446.4,1101.2 L1446.9,1101.0 L1447.4,1101.0 L1447.9,1101.9 L1448.4,1101.1 L1448.9,1100.5 L1449.4,1100.7 L1449.9,1100.1 L1450.4,1100.4 L1450.9,1100.5 L1451.4,1101.6 L1451.9,1102.2 L1452.4,1101.7 L1452.9,1102.8 L1453.4,1102.2 L1453.9,1103.2 L1454.4,1102.9 L1454.9,1102.7 L1455.4,1102.2 L1455.9,1101.0 L1456.4,1102.0 L1456.9,1101.6 L1457.4,1101.8 L1457.9,1102.0 L1458.4,1102.0 L1458.9,1101.9 L1459.4,1102.4 L1459.9,1102.2 L1460.4,1102.0 L1460.9,1102.6 L1461.4,1102.0 L1461.9,1101.8 L1462.4,1102.5 L1462.9,1101.8 L1463.4,1101.9 L1463.9,1101.2 L1464.4,1101.8 L1464.9,1102.5 L1465.4,1101.8 L1465.9,1101.8 L1466.4,1101.4 L1466.9,1102.1 L1467.4,1101.2 L1467.9,1101.5 L1468.4,1102.0 L1468.9,1102.8 L1469.4,1102.2 L1469.9,1101.7 L1470.4,1101.1 L1470.9,1101.9 L1471.4,1100.9 L1471.9,1100.9 L1472.4,1101.5 L1472.9,1101.5 L1473.4,1100.9 L1473.9,1101.2 L1474.4,1101.7 L1474.9,1101.5 L1475.4,1101.9 L1475.9,1102.2 L1476.4,1102.5 L1476.9,1102.7 L1477.4,1102.3 L1477.9,1101.9 L1478.4,1101.8 L1478.9,1102.8 L1479.4,1101.7 L1479.9,1101.6 L1480.4,1101.3 L1480.9,1102.3 L1481.4,1101.8 L1481.9,1101.2 L1482.4,1100.6 L1482.9,1101.1 L1483.4,1101.4 L1483.9,1101.6 L1484.4,1101.4 L1484.9,1102.0 L1485.4,1102.6 L1485.9,1103.1 L1486.4,1102.9 L1486.9,1102.8 L1487.4,1103.3 L1487.9,1102.2 L1488.4,1102.4 L1488.9,1101.4 L1489.4,1101.4 L1489.9,1101.6 L1490.4,1101.5 L1490.9,1101.2 L1491.4,1101.5 L1491.9,1101.8 L1492.4,1101.3 L1492.9,1102.2 L1493.4,1101.8 L1493.9,1102.2 L1494.4,1101.8 L1494.9,1101.7 L1495.4,1101.8 L1495.9,1101.9 L1496.4,1101.7 L1496.9,1102.1 L1497.4,1101.9 L1497.9,1102.7 L1498.4,1102.6 L1498.9,1101.8 L1499.4,1102.6 L1499.9,1102.4 L1500.4,1102.3 L1500.9,1103.0 L1501.4,1101.9 L1501.9,1102.3 L1502.4,1102.3 L1502.9,1102.5 L1503.4,1101.7 L1503.9,1102.0 L1504.4,1102.0 L1504.9,1101.7 L1505.4,1102.5 L1505.9,1102.8 L1506.4,1102.4 L1506.9,1103.3 L1507.4,1102.7 L1507.9,1103.0 L1508.4,1103.0 L1508.9,1102.6 L1509.4,1102.8 L1509.9,1101.8 L1510.4,1102.0 L1510.9,1101.5 L1511.4,1102.5 L1511.9,1102.2 L1512.4,1101.3 L1512.9,1101.5 L1513.4,1101.6 L1513.9,1101.2 L1514.4,1100.6 L1514.9,1101.3 L1515.4,1101.6 L1515.9,1101.4 L1516.4,1101.5 L1516.9,1101.4 L1517.4,1101.2 L1517.9,1101.5 L1518.4,1101.6 L1518.9,1100.8 L1519.4,1101.0 L1519.9,1102.0 L1520.4,1102.2 L1520.9,1102.6 L1521.4,1102.1 L1521.9,1102.8 L1522.4,1103.0 L1522.9,1102.7 L1523.4,1102.8 L1523.9,1103.2 L1524.4,1102.0 L1524.9,1103.0 L1525.4,1102.9 L1525.9,1103.1 L1526.4,1103.1 L1526.9,1102.5 L1527.4,1102.1 L1527.9,1101.9 L1528.4,1102.5 L1528.9,1101.5 L1529.4,1101.6 L1529.9,1101.6 L1530.4,1102.1 L1530.9,1101.4 L1531.4,1101.7 L1531.9,1101.9 L1532.4,1102.2 L1532.9,1101.9 L1533.4,1102.5 L1533.9,1101.8 L1534.4,1102.1 L1534.9,1102.2 L1535.4,1101.7 L1535.9,1102.1 L1536.4,1102.0 L1536.9,1101.9 L1537.4,1102.0 L1537.9,1102.4 L1538.4,1101.3 L1538.9,1101.7 L1539.4,1102.5 L1539.9,1101.0 L1540.4,1101.9 L1540.9,1102.7 L1541.4,1102.0 L1541.9,1103.1 L1542.4,1102.1 L1542.9,1102.4 L1543.4,1101.9 L1543.9,1101.5 L1544.4,1102.0 L1544.9,1101.6 L1545.4,1100.7 L1545.9,1101.3 L1546.4,1101.6 L1546.9,1101.8 L1547.4,1102.1 L1547.9,1102.4 L1548.4,1103.1 L1548.9,1102.3 L1549.4,1102.7 L1549.9,1103.3 L1550.4,1103.6 L1550.9,1103.5 L1551.4,1102.8 L1551.9,1103.0 L1552.4,1103.0 L1552.9,1102.3 L1553.4,1102.2 L1553.9,1102.0 L1554.4,1101.6 L1554.9,1102.2 L1555.4,1101.3 L1555.9,1101.0 L1556.4,1101.8 L1556.9,1101.1 L1557.4,1101.8 L1557.9,1101.1 L1558.4,1101.7 L1558.9,1101.3 L1559.4,1101.3 L1559.9,1101.5 L1560.4,1100.9 L1560.9,1101.1 L1561.4,1102.3 L1561.9,1103.0 L1562.4,1101.7 L1562.9,1102.0 L1563.4,1102.7 L1563.9,1102.3 L1564.4,1102.7 L1564.9,1101.8 L1565.4,1102.6 L1565.9,1102.0 L1566.4,1102.6 L1566.9,1101.9 L1567.4,1102.0 L1567.9,1101.7 L1568.4,1101.2 L1568.9,1102.1 L1569.4,1101.5 L1569.9,1101.7 L1570.4,1102.4 L1570.9,1101.6 L1571.4,1100.9 L1571.9,1100.6 L1572.4,1100.8 L1572.9,1101.6 L1573.4,1100.9 L1573.9,1101.3 L1574.4,1101.4 L1574.9,1102.0 L1575.4,1101.8 L1575.9,1101.9 L1576.4,1101.7 L1576.9,1101.9 L1577.4,1101.5 L1577.9,1102.0 L1578.4,1102.6 L1578.9,1101.9 L1579.4,1101.8 L1579.9,1101.3 L1580.4,1102.0 L1580.9,1101.3 L1581.4,1101.7 L1581.9,1102.1 L1582.4,1101.1 L1582.9,1102.0 L1583.4,1101.4 L1583.9,1101.0 L1584.4,1101.9 L1584.9,1100.6 L1585.4,1101.4 L1585.9,1101.0 L1586.4,1100.8 L1586.9,1100.8 L1587.4,1100.2 L1587.9,1100.6 L1588.4,1100.5 L1588.9,1101.4 L1589.4,1101.7 L1589.9,1101.2 L1590.4,1102.0 L1590.9,1101.5 L1591.4,1101.7 L1591.9,1102.1 L1592.4,1102.3 L1592.9,1101.7 L1593.4,1101.6 L1593.9,1101.0 L1594.4,1101.9 L1594.9,1101.8 L1595.4,1101.7 L1595.9,1101.6 L1596.4,1101.8 L1596.9,1101.9 L1597.4,1101.7 L1597.9,1101.2 L1598.4,1100.9 L1598.9,1101.0 L1599.4,1100.5 L1599.9,1100.3 L1600.4,1100.4 L1600.9,1100.7 L1601.4,1101.7 L1601.9,1101.5 L1602.4,1101.0 L1602.9,1101.7 L1603.4,1101.9 L1603.9,1101.8 L1604.4,1101.0 L1604.9,1101.4 L1605.4,1100.2 L1605.9,1100.8 L1606.4,1101.2 L1606.9,1101.5 L1607.4,1101.1 L1607.9,1101.0 L1608.4,1101.6 L1608.9,1100.6 L1609.4,1101.5 L1609.9,1102.2 L1610.4,1102.3 L1610.9,1101.5 L1611.4,1102.1 L1611.9,1102.7 L1612.4,1101.3 L1612.9,1101.7 L1613.4,1102.0 L1613.9,1100.9 L1614.4,1102.0 L1614.9,1101.3 L1615.4,1101.2 L1615.9,1101.7 L1616.4,1101.7 L1616.9,1101.7 L1617.4,1101.2 L1617.9,1102.4 L1618.4,1101.3 L1618.9,1101.6 L1619.4,1101.3 L1619.9,1101.3 L1620.4,1101.1 L1620.9,1101.4 L1621.4,1100.9 L1621.9,1101.4 L1622.4,1100.6 L1622.9,1100.8 L1623.4,1101.7 L1623.9,1101.1" fill="none" stroke="#FF0000" stroke-width="6.3" stroke-linejoin="round" stroke-linecap="round"/>
<path d="M765.4,1240.1 V633.6 M904.4,1240.1 V984.9 M1366.6,1240.1 V1142.9" fill="none" stroke="#FFA500" stroke-width="8.6" stroke-linecap="round"/>
<path d="M291.1,1240.1 V1236.8 M404.9,1240.1 V632.3 M411.5,1240.1 V758.0 M507.9,1240.1 V661.1 M545.9,1240.1 V1211.6 M584.6,1240.1 V1239.6 M610.8,1240.1 V1097.3 M630.2,1240.1 V1136.4 M642.9,1240.1 V1194.5 M650.2,1240.1 V1228.6 M655.2,1240.1 V1225.3 M666.8,1240.1 V1215.2 M679.7,1240.1 V1215.2 M685.0,1240.1 V1150.3 M725.4,1240.1 V1153.6 M732.2,1240.1 V1239.5 M749.4,1240.1 V1239.1 M796.1,1240.1 V1125.0 M801.6,1240.1 V1229.8 M833.2,1240.1 V1061.9 M844.5,1240.1 V1239.1 M854.9,1240.1 V1125.8 M864.2,1240.1 V1222.7 M909.3,1240.1 V1221.8 M923.2,1240.1 V1240.1 M936.1,1240.1 V1235.7 M950.0,1240.1 V1116.7 M955.0,1240.1 V1168.0 M969.2,1240.1 V1063.7 M978.2,1240.1 V1207.6 M988.3,1240.1 V1239.0 M1005.5,1240.1 V1153.6 M1009.8,1240.1 V1188.2 M1016.1,1240.1 V1228.6 M1059.0,1240.1 V1204.1 M1067.1,1240.1 V1240.1 M1097.9,1240.1 V1177.3 M1115.8,1240.1 V1230.3 M1122.9,1240.1 V1194.5 M1127.9,1240.1 V1173.5 M1136.0,1240.1 V1201.5 M1145.3,1240.1 V1191.4 M1153.2,1240.1 V1163.4 M1161.2,1240.1 V1238.1 M1170.3,1240.1 V1195.2 M1175.1,1240.1 V1216.0 M1202.9,1240.1 V1240.1 M1214.2,1240.1 V1240.1 M1224.8,1240.1 V1204.6 M1256.5,1240.1 V1192.5 M1261.0,1240.1 V1214.7 M1276.9,1240.1 V1222.7 M1283.8,1240.1 V1222.7 M1290.8,1240.1 V1231.0 M1296.2,1240.1 V1238.7 M1308.3,1240.1 V1239.1 M1315.8,1240.1 V1227.0 M1326.3,1240.1 V1238.1 M1332.6,1240.1 V1232.8 M1340.5,1240.1 V1240.1 M1358.3,1240.1 V1240.1 M1369.2,1240.1 V1240.1 M1379.3,1240.1 V1212.7 M1383.6,1240.1 V1226.0 M1394.9,1240.1 V1236.2 M1403.0,1240.1 V1239.1 M1418.9,1240.1 V1231.0 M1423.2,1240.1 V1220.5 M1427.2,1240.1 V1228.6 M1442.9,1240.1 V1229.8 M1456.8,1240.1 V1240.1 M1479.5,1240.1 V1224.3 M1484.5,1240.1 V1227.3 M1489.6,1240.1 V1230.3 M1495.9,1240.1 V1233.6 M1500.9,1240.1 V1230.3 M1506.7,1240.1 V1215.9 M1512.3,1240.1 V1226.0 M1517.8,1240.1 V1218.0 M1523.6,1240.1 V1228.6 M1528.7,1240.1 V1229.3 M1533.7,1240.1 V1230.3 M1564.5,1240.1 V1211.6 M1606.5,1240.1 V1240.1 M1610.0,1240.1 V1240.1 M1613.5,1240.1 V1240.1" fill="none" stroke="#00BFFF" stroke-width="8.6" stroke-linecap="round"/>
</g>
<text class="t" x="88.3 114.3" y="1309.5" font-size="52" fill="#000">10</text>
<text class="t" x="276.9 302.9" y="1309.5" font-size="52" fill="#000">20</text>
<text class="t" x="465.4 491.4" y="1309.5" font-size="52" fill="#000">30</text>
<text class="t" x="654.0 680.0" y="1309.5" font-size="52" fill="#000">40</text>
<text class="t" x="842.6 868.6" y="1309.5" font-size="52" fill="#000">50</text>
<text class="t" x="1031.2 1057.2" y="1309.5" font-size="52" fill="#000">60</text>
<text class="t" x="1219.8 1245.8" y="1309.5" font-size="52" fill="#000">70</text>
<text class="t" x="1408.3 1434.3" y="1309.5" font-size="52" fill="#000">80</text>
<text class="t" x="1596.9 1622.9" y="1309.5" font-size="52" fill="#000">90</text>
<text class="b" x="869.5" y="1397.2" font-size="63.6" text-anchor="middle" fill="#000">2θ(degree)</text>
<text class="b" transform="translate(63.1,632.4) rotate(-90)" font-size="63.7" text-anchor="middle" fill="#000">Intensity(a.u.)</text>
<rect x="1144.2" y="63.6" width="422.3" height="87.6" fill="#fff" stroke="#5c5c5c" stroke-width="2.1"/>
<path d="M1150.8,106.4 H1282.8" stroke="#FF0000" stroke-width="6.2" fill="none"/>
<text class="t" x="1310.8" y="129.3" font-size="64" fill="#000" textLength="246" lengthAdjust="spacing">Activated</text>
<text class="b" x="206.4" y="671.8" font-size="45.5" fill="#00BFFF">TiO<tspan font-size="31" dy="13">2</tspan><tspan dy="-13">(210)</tspan></text>
<text class="b" x="201.6" y="779.5" font-size="45.5" fill="#00BFFF">TiO<tspan font-size="31" dy="13">2</tspan><tspan dy="-13">(111)</tspan></text>
<text class="b" x="514.9" y="705.0" font-size="45.5" fill="#00BFFF">TiO<tspan font-size="31" dy="13">2</tspan><tspan dy="-13">(211)</tspan></text>
<text class="b" x="618.3" y="608.1" font-size="45.5" fill="#FFA500">Ni(111)</text>
<text class="b" x="922.4" y="989.3" font-size="45.5" fill="#FFA500">Ni(200)</text>
<text class="b" x="1064.7" y="1060.2" font-size="45.5" fill="#00BFFF">TiO<tspan font-size="31" dy="13">2</tspan><tspan dy="-13">(123)</tspan></text>
<text class="b" x="1384.9" y="1069" font-size="45.5" fill="#00BFFF">TiO<tspan font-size="31" dy="13">2</tspan><tspan dy="-13">(133)</tspan></text>
<text class="b" x="1382.9" y="1167.6" font-size="45.5" fill="#FFA500">Ni(222)</text>
</svg>
<div class="pdf" style="left:1145.6px;top:175.2px;font-size:63px;height:63px;line-height:63px;color:#00BFFF"><span style="transform:scale(0.84,1)">P</span><span style="transform:scale(0.7,1)">D</span><span style="transform:scale(0.92,1)">F</span><span style="transform:scale(0.95,1)">#</span><span style="transform:scale(1.0,1)">7</span><span style="transform:scale(1.0,1)">6</span><span style="transform:translateY(-6px) scale(1.8,0.5)">-</span><span style="transform:scale(1.0,1)">1</span><span style="transform:scale(1.0,1)">9</span><span style="transform:scale(1.0,1)">3</span><span style="transform:scale(1.0,1)">4</span></div>
<div class="pdf" style="left:1145.6px;top:256.2px;font-size:63px;height:63px;line-height:63px;color:#FFA500"><span style="transform:scale(0.84,1)">P</span><span style="transform:scale(0.7,1)">D</span><span style="transform:scale(0.92,1)">F</span><span style="transform:scale(0.95,1)">#</span><span style="transform:scale(1.0,1)">8</span><span style="transform:scale(1.0,1)">7</span><span style="transform:translateY(-6px) scale(1.8,0.5)">-</span><span style="transform:scale(1.0,1)">0</span><span style="transform:scale(1.0,1)">7</span><span style="transform:scale(1.0,1)">1</span><span style="transform:scale(1.0,1)">2</span></div>
</body></html>
